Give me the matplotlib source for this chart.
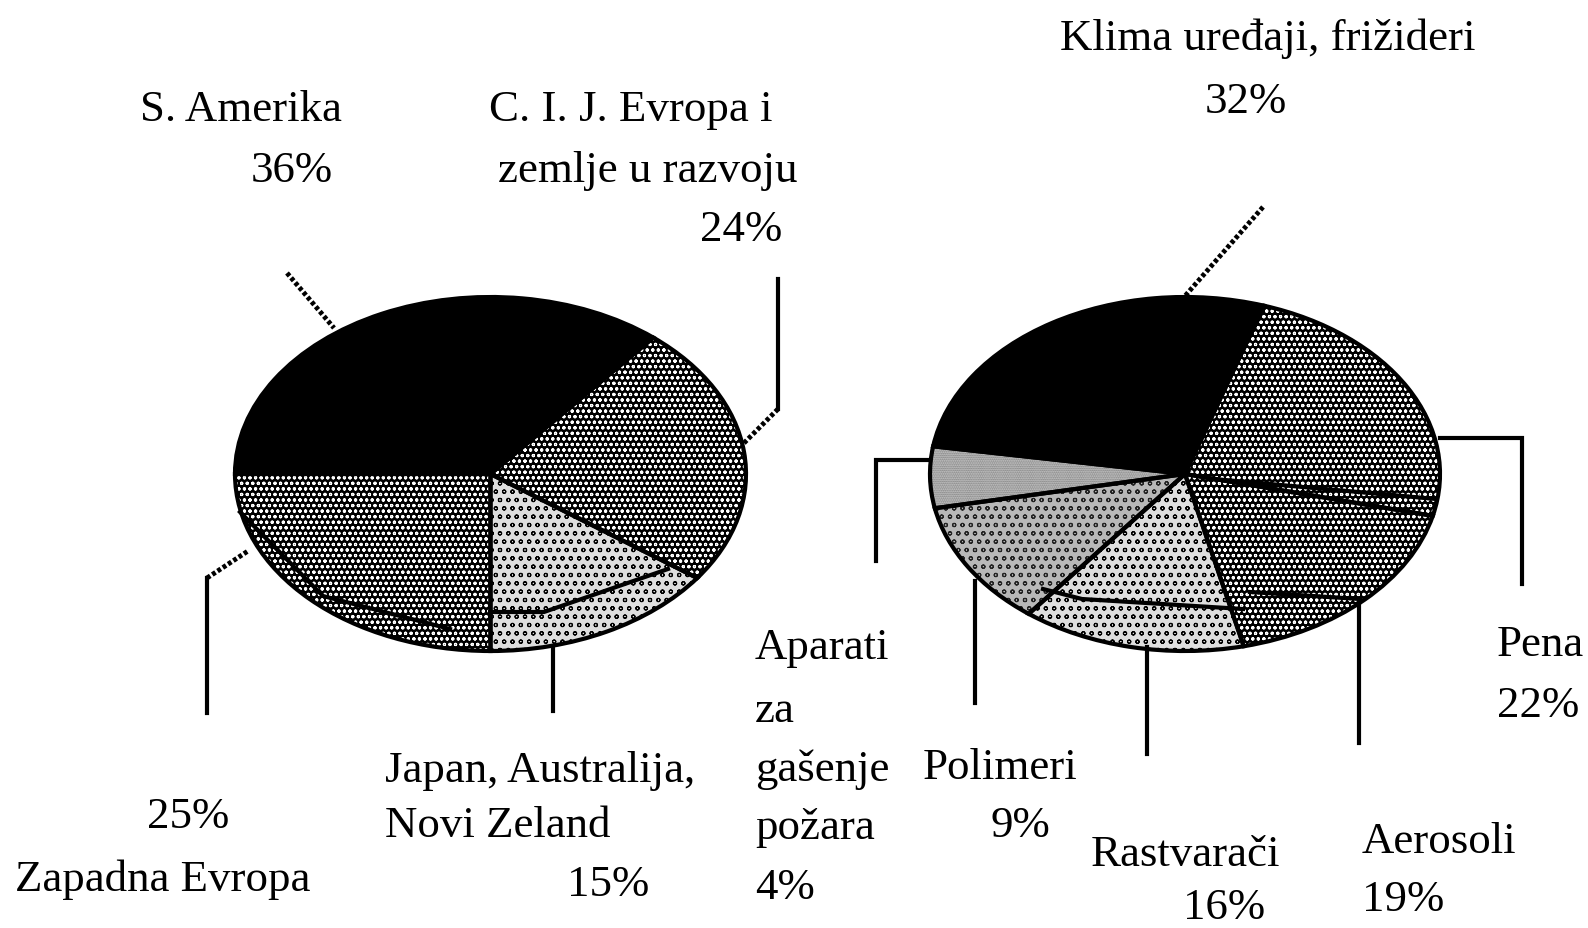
import matplotlib
matplotlib.use("Agg")
from matplotlib import pyplot as plt

plt.rcParams['font.family'] = ['Liberation Serif', 'DejaVu Serif']
plt.rcParams['hatch.linewidth'] = 0.8

W, H = 1588, 929

# Left pie: the printed shares sum to 100
left_names = ['S. Amerika', 'C. I. J. Evropa', 'Japan, Australija, Novi Zeland', 'Zapadna Evropa']
left_values = [36, 24, 15, 25]

# Right pie: printed shares sum to 102 and the drawn slices differ from them,
# so the slice sizes are read off the drawing
right_names = ['Klima uredjaji', 'Pena', 'Aerosoli', 'Rastvaraci', 'Polimeri', 'Aparati']
right_printed = [32, 22, 19, 16, 9, 4]
right_drawn = [27.5, 23.8, 17.5, 14.2, 11.4, 5.6]

left_faces = ['black', 'black', '#dedede', 'black']
left_hatch_colors = ['black', 'white', 'black', 'white']
left_hatches = [None, 'ooo', 'oo', 'ooo']

right_faces = ['black', 'black', 'black', '#dedede', '#b8b8b8', '#c8c8c8']
right_hatch_colors = ['black', 'white', 'white', 'black', '#222222', '#777777']
right_hatches = [None, 'ooo', 'ooo', 'oo', 'oo', '.........']

# text, left edge, centre y (pixels of the full image)
labels = [
    ('S. Amerika', 140, 110), ('36%', 251, 171),
    ('C. I. J. Evropa i', 489, 110), ('zemlje u razvoju', 498, 171), ('24%', 700, 230),
    ('Klima uređaji, frižideri', 1060, 39), ('32%', 1205, 102),
    ('25%', 147, 817), ('Zapadna Evropa', 15, 880),
    ('Japan, Australija,', 385, 771), ('Novi Zeland', 385, 826), ('15%', 567, 885),
    ('Aparati', 755, 648), ('za', 755, 711), ('gašenje', 755, 770),
    ('požara', 755, 828), ('4%', 755, 888),
    ('Polimeri', 923, 768), ('9%', 990, 826),
    ('Rastvarači', 1091, 855), ('16%', 1183, 908),
    ('Aerosoli', 1362, 842), ('19%', 1362, 900),
    ('Pena', 1497, 645), ('22%', 1497, 706),
]

# dotted and solid leader lines (pixels)
dotted = [
    [(287, 274), (334, 329)],
    [(778, 410), (742, 446)],
    [(1263, 208), (1185, 297)],
    [(207, 579), (248, 552)],
]
solid = [
    [(778, 280), (778, 410)],
    [(207, 714), (207, 579)],
    [(553, 712), (553, 648)],
    [(876, 562), (876, 461), (930, 461)],
    [(975, 704), (975, 582)],
    [(1147, 755), (1147, 648)],
    [(1359, 744), (1359, 603)],
    [(1522, 585), (1522, 439), (1440, 439)],
    # lines running across the slices
    [(490, 613), (544, 613), (668, 570)],
    [(240, 513), (323, 597), (450, 630)],
    [(1214, 480), (1436, 500)],
    [(1043, 590), (1082, 600), (1243, 610)],
    [(1250, 593), (1360, 600)],
]


def draw_pie(box, values, faces, hatch_colors, hatches, start):
    x0, x1, y0, y1 = box
    ax = fig.add_axes([x0/W, 1 - y1/H, (x1 - x0)/W, (y1 - y0)/H])
    wedges, _ = ax.pie(values, startangle=start, counterclock=False, radius=1,
                       wedgeprops={'linewidth': 0})
    for w, f, c, h in zip(wedges, faces, hatch_colors, hatches):
        w.set_facecolor(f)
        w.set_edgecolor(c)
        w.set_hatch(h)
    # black outline over the hatching
    ax.pie(values, startangle=start, counterclock=False, radius=1,
           wedgeprops={'linewidth': 3, 'edgecolor': 'black', 'fill': False})
    ax.set_xlim(-1, 1)
    ax.set_ylim(-1, 1)
    ax.set_aspect('auto')
    ax.axis('off')


fig = plt.figure(figsize=(W/100, H/100), dpi=100, facecolor='white')

draw_pie((235, 746, 298, 652), left_values, left_faces, left_hatch_colors, left_hatches, 180)
draw_pie((930, 1440, 298, 652), right_drawn, right_faces, right_hatch_colors, right_hatches, 171)

over = fig.add_axes([0, 0, 1, 1])
over.set_xlim(0, W)
over.set_ylim(H, 0)
over.axis('off')

for line in dotted:
    over.plot([p[0] for p in line], [p[1] for p in line], color='black', lw=3.5,
              linestyle=(0, (0.8, 0.5)))
for line in solid:
    over.plot([p[0] for p in line], [p[1] for p in line], color='black', lw=3,
              solid_joinstyle='miter')

for txt, x, y in labels:
    over.text(x, y, txt, fontsize=32.3, ha='left', va='center', color='black')

fig.savefig('out.png', dpi=100)
